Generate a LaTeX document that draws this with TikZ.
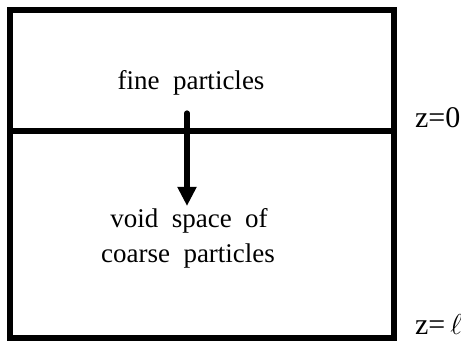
\documentclass[tikz,border=0pt]{standalone}
\usepackage{fontspec}
\setmainfont{Liberation Serif}
\usetikzlibrary{arrows.meta}
\begin{document}
\begin{tikzpicture}[x=0.5pt, y=-0.5pt, every node/.style={font=\fontsize{13.5}{16}\selectfont}]
    \useasboundingbox (0,0) rectangle (461,341);
    % vessel and layer boundary
    \draw[line width=3pt] (10,10) rectangle (393.5,338);
    \draw[line width=3pt] (10,131) -- (393.5,131);
    % labels
    \node (fine)  at (191,83)  {fine\enspace particles};
    \node (void)  at (189,221) {void\enspace space\enspace of};
    \node (coarse) at (188,256) {coarse\enspace particles};
    \node[anchor=west, font=\fontsize{15}{18}\selectfont] (ztop) at (408,118) {z=0};
    \node[anchor=west, font=\fontsize{15}{18}\selectfont] (zbot) at (408,325) {z=\,$\ell$};
    % flow direction
    \coordinate (start) at (187,113);
    \coordinate (tip)   at (187,206);
    \draw[line width=2.6pt, line cap=round, -{Triangle[length=9.5pt, width=9pt]}] (start) -- (tip);
\end{tikzpicture}
\end{document}
